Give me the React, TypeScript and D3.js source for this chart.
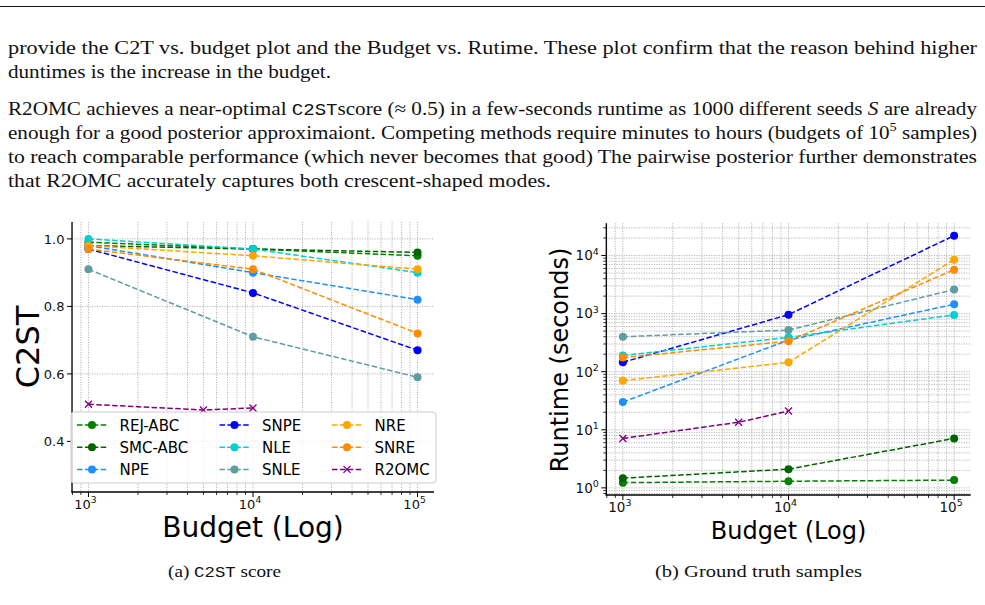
import React, { useEffect, useRef } from 'react';
import * as d3 from 'd3';

// methods in plotting / legend order
const methods = ['REJ-ABC', 'SMC-ABC', 'NPE', 'SNPE', 'NLE', 'SNLE', 'NRE', 'SNRE', 'R2OMC'];
const colors = ['green', 'darkgreen', 'dodgerblue', 'blue', 'darkturquoise', 'cadetblue', 'orange', 'darkorange', 'purple'];
const markers = ['o', 'o', 'o', 'o', 'o', 'o', 'o', 'o', 'x'];

const budgets = [1000, 10000, 100000];
const r2omcBudgets = [1000, 5000, 10000];

// C2ST score per method, one value per budget
const c2stScores = [
  [0.99, 0.97, 0.95],
  [0.98, 0.97, 0.96],
  [0.98, 0.9, 0.82],
  [0.97, 0.84, 0.67],
  [1.0, 0.97, 0.9],
  [0.91, 0.71, 0.59],
  [0.98, 0.95, 0.91],
  [0.97, 0.91, 0.72],
  [0.51, 0.493, 0.499],
];

// runtime in seconds per method, one value per budget
const runtimes = [
  [1.23, 1.3, 1.36],
  [1.47, 2.1, 7.1],
  [30, 350, 1450],
  [145, 960, 22000],
  [190, 390, 950],
  [400, 520, 2600],
  [70, 145, 8500],
  [175, 335, 5700],
  [7.1, 13.5, 21],
];

const c2stTicks = [0.4, 0.6, 0.8, 1.0];
const c2stLimits = [0.25, 1.05];

const logMajor = (lo: number, hi: number) =>
  d3.range(Math.ceil(Math.log10(lo) - 1e-9), Math.floor(Math.log10(hi) + 1e-9) + 1).map((k) => 10 ** k);

const logMinor = (lo: number, hi: number) => {
  const out: number[] = [];
  for (let k = Math.floor(Math.log10(lo)); k <= Math.ceil(Math.log10(hi)); k++) {
    for (let m = 2; m <= 9; m++) {
      const v = m * 10 ** k;
      if (v >= lo && v <= hi) out.push(v);
    }
  }
  return out;
};

// matplotlib-like 5% margin in log space
const logPad = (vals: number[]) => {
  const lo = Math.log10(d3.min(vals)!);
  const hi = Math.log10(d3.max(vals)!);
  const pad = (hi - lo) * 0.05;
  return [10 ** (lo - pad), 10 ** (hi + pad)];
};

const FONT = 'DejaVu Sans, sans-serif';
const SERIF = 'Liberation Serif, serif';
const MONO = 'Liberation Mono, monospace';

type Seg = { t: string; mono?: boolean; italic?: boolean; sup?: boolean };

const bodyLines: { y: number; width: number; segs: Seg[] }[] = [
  { y: 54, width: 969, segs: [{ t: 'provide the C2T vs. budget plot and the Budget vs. Rutime. These plot confirm that the reason behind higher' }] },
  { y: 78, width: 323, segs: [{ t: 'duntimes is the increase in the budget.' }] },
  {
    y: 115,
    width: 969,
    segs: [
      { t: 'R2OMC achieves a near-optimal ' },
      { t: 'C2ST', mono: true },
      { t: 'score (≈ 0.5) in a few-seconds runtime as 1000 different seeds ' },
      { t: 'S', italic: true },
      { t: ' are already' },
    ],
  },
  {
    y: 139,
    width: 969,
    segs: [
      { t: 'enough for a good posterior approximaiont. Competing methods require minutes to hours (budgets of 10' },
      { t: '5', sup: true },
      { t: ' samples)' },
    ],
  },
  { y: 163, width: 969, segs: [{ t: 'to reach comparable performance (which never becomes that good) The pairwise posterior further demonstrates' }] },
  { y: 187, width: 543, segs: [{ t: 'that R2OMC accurately captures both crescent-shaped modes.' }] },
];

const captions: { x: number; width: number; segs: Seg[] }[] = [
  { x: 168, width: 113, segs: [{ t: '(a) ' }, { t: 'C2ST', mono: true }, { t: ' score' }] },
  { x: 655, width: 207, segs: [{ t: '(b) Ground truth samples' }] },
];

const writeSegs = (text: any, segs: Seg[], size: number) => {
  let raised = false;
  segs.forEach((s) => {
    const ts = text.append('tspan').text(s.t);
    if (s.mono) ts.attr('font-family', MONO).attr('font-size', size * 0.9);
    if (s.italic) ts.attr('font-style', 'italic');
    if (s.sup) {
      ts.attr('font-size', size * 0.68).attr('dy', -size * 0.4);
      raised = true;
    } else if (raised) {
      ts.attr('dy', size * 0.4);
      raised = false;
    }
  });
};

const drawPage = (svg: any) => {
  svg.append('line').attr('x1', 0).attr('x2', 985).attr('y1', 6.5).attr('y2', 6.5).attr('stroke', '#111').attr('stroke-width', 1.2);

  bodyLines.forEach((ln) => {
    const t = svg
      .append('text')
      .attr('x', 8)
      .attr('y', ln.y)
      .attr('font-family', SERIF)
      .attr('font-size', 19)
      .attr('fill', '#111')
      .attr('textLength', ln.width)
      .attr('lengthAdjust', 'spacingAndGlyphs')
      .style('white-space', 'pre');
    writeSegs(t, ln.segs, 19);
  });

  captions.forEach((c) => {
    const t = svg
      .append('text')
      .attr('x', c.x)
      .attr('y', 577)
      .attr('font-family', SERIF)
      .attr('font-size', 17)
      .attr('fill', '#111')
      .attr('textLength', c.width)
      .attr('lengthAdjust', 'spacingAndGlyphs')
      .style('white-space', 'pre');
    writeSegs(t, c.segs, 17);
  });
};

const powLabel = (sel: any, v: number, size: number) => {
  sel.append('tspan').text('10');
  sel
    .append('tspan')
    .attr('font-size', size * 0.7)
    .attr('dy', -size * 0.42)
    .text(String(Math.round(Math.log10(v))));
};

type Panel = {
  x: d3.ScaleLogarithmic<number, number>;
  y: any;
  yLog: boolean;
  yTicks: number[];
  xs: number[][];
  values: number[][];
  yLabel: string;
  yLabelSize: number;
  yLabelX: number;
  yLabelY: number;
  xLabelSize: number;
  xLabelY: number;
  tickSize: number;
  legend: boolean;
};

const drawPanel = (svg: any, p: Panel) => {
  const g = svg.append('g');
  const [x0, x1] = p.x.range();
  const [y0, y1] = p.y.range(); // bottom, top
  const [dx0, dx1] = p.x.domain();
  const xMajor = logMajor(dx0, dx1);
  const xMinor = logMinor(dx0, dx1);
  const yMinor = p.yLog ? logMinor(p.y.domain()[0], p.y.domain()[1]) : [];

  const grid = g.append('g').attr('stroke', '#a8a8a8').attr('stroke-width', 0.9).attr('stroke-dasharray', '1.1,1.4');
  grid
    .selectAll('.gx')
    .data([...xMajor, ...xMinor])
    .join('line')
    .attr('x1', (d: number) => p.x(d))
    .attr('x2', (d: number) => p.x(d))
    .attr('y1', y1)
    .attr('y2', y0);
  grid
    .selectAll('.gy')
    .data([...p.yTicks, ...yMinor])
    .join('line')
    .attr('y1', (d: number) => p.y(d))
    .attr('y2', (d: number) => p.y(d))
    .attr('x1', x0)
    .attr('x2', x1);

  // series
  p.values.forEach((vals, i) => {
    const pts = vals.map((v, j) => [p.x(p.xs[i][j]), p.y(v)] as [number, number]);
    g.append('path')
      .attr('d', d3.line()(pts))
      .attr('fill', 'none')
      .attr('stroke', colors[i])
      .attr('stroke-width', 1.5)
      .attr('stroke-dasharray', '5.5,2.4');
    drawMarkers(g, pts, i);
  });

  // spines + ticks
  const ax = g.append('g').attr('stroke', '#000');
  ax.append('line').attr('x1', x0).attr('x2', x0).attr('y1', y1).attr('y2', y0 + 0.6).attr('stroke-width', 1.3);
  ax.append('line').attr('x1', x0 - 0.6).attr('x2', x1).attr('y1', y0).attr('y2', y0).attr('stroke-width', 1.3);
  xMajor.forEach((v) => ax.append('line').attr('x1', p.x(v)).attr('x2', p.x(v)).attr('y1', y0).attr('y2', y0 + 5).attr('stroke-width', 1));
  xMinor.forEach((v) => ax.append('line').attr('x1', p.x(v)).attr('x2', p.x(v)).attr('y1', y0).attr('y2', y0 + 3).attr('stroke-width', 0.8));
  p.yTicks.forEach((v) => ax.append('line').attr('y1', p.y(v)).attr('y2', p.y(v)).attr('x1', x0).attr('x2', x0 - 5).attr('stroke-width', 1));
  yMinor.forEach((v) => ax.append('line').attr('y1', p.y(v)).attr('y2', p.y(v)).attr('x1', x0).attr('x2', x0 - 3).attr('stroke-width', 0.8));

  // tick labels
  xMajor.forEach((v) => {
    const t = g
      .append('text')
      .attr('x', p.x(v) - 3)
      .attr('y', y0 + 16.5)
      .attr('text-anchor', 'middle')
      .attr('font-family', FONT)
      .attr('font-size', p.tickSize)
      .attr('fill', '#111');
    powLabel(t, v, p.tickSize);
  });
  p.yTicks.forEach((v) => {
    const t = g
      .append('text')
      .attr('x', x0 - 7.5)
      .attr('y', p.y(v) + p.tickSize * 0.36)
      .attr('text-anchor', 'end')
      .attr('font-family', FONT)
      .attr('font-size', p.tickSize)
      .attr('fill', '#111');
    if (p.yLog) powLabel(t, v, p.tickSize);
    else t.text(d3.format('.1f')(v));
  });

  // axis titles
  g.append('text')
    .attr('transform', `translate(${p.yLabelX},${p.yLabelY}) rotate(-90)`)
    .attr('text-anchor', 'middle')
    .attr('font-family', FONT)
    .attr('font-size', p.yLabelSize)
    .attr('fill', '#000')
    .text(p.yLabel);
  g.append('text')
    .attr('x', (x0 + x1) / 2)
    .attr('y', p.xLabelY)
    .attr('text-anchor', 'middle')
    .attr('font-family', FONT)
    .attr('font-size', p.xLabelSize)
    .attr('fill', '#000')
    .text('Budget (Log)');

  if (p.legend) drawLegend(g, x0, y0);
};

const drawMarkers = (g: any, pts: [number, number][], i: number) => {
  if (markers[i] === 'x') {
    pts.forEach(([cx, cy]) => {
      g.append('path')
        .attr('d', `M${cx - 3.5},${cy - 3.5}L${cx + 3.5},${cy + 3.5}M${cx - 3.5},${cy + 3.5}L${cx + 3.5},${cy - 3.5}`)
        .attr('stroke', colors[i])
        .attr('stroke-width', 1.3);
    });
  } else {
    pts.forEach(([cx, cy]) => g.append('circle').attr('cx', cx).attr('cy', cy).attr('r', 4).attr('fill', colors[i]));
  }
};

const drawLegend = (g: any, x0: number, y0: number) => {
  const bx = x0 - 1;
  const by = y0 - 80;
  g.append('rect')
    .attr('x', bx)
    .attr('y', by)
    .attr('width', 365)
    .attr('height', 71)
    .attr('rx', 3)
    .attr('fill', '#fff')
    .attr('fill-opacity', 0.8)
    .attr('stroke', '#cccccc')
    .attr('stroke-width', 1);
  const colW = 142.5;
  methods.forEach((m, i) => {
    const col = Math.floor(i / 3);
    const row = i % 3;
    const hx = bx + 6 + col * (col === 2 ? 127.5 : colW);
    const hy = by + 13 + row * 22.2;
    g.append('line')
      .attr('x1', hx)
      .attr('x2', hx + 30)
      .attr('y1', hy)
      .attr('y2', hy)
      .attr('stroke', colors[i])
      .attr('stroke-width', 1.5)
      .attr('stroke-dasharray', '5.5,2.4');
    drawMarkers(g, [[hx + 15, hy]], i);
    g.append('text')
      .attr('x', hx + 42.5)
      .attr('y', hy + 5.5)
      .attr('font-family', FONT)
      .attr('font-size', 15)
      .attr('fill', '#000')
      .text(m);
  });
};

const App = () => {
  const svgRef = useRef<SVGSVGElement>(null);

  useEffect(() => {
    if (!svgRef.current) return;
    const svg = d3.select(svgRef.current);
    svg.selectAll('*').remove();

    drawPage(svg);

    const xs = methods.map((m) => (m === 'R2OMC' ? r2omcBudgets : budgets));
    const xDomain = logPad(budgets);

    drawPanel(svg, {
      x: d3.scaleLog().domain(xDomain).range([72, 434]),
      y: d3.scaleLinear().domain(c2stLimits).range([492, 222]),
      yLog: false,
      yTicks: c2stTicks,
      xs,
      values: c2stScores,
      yLabel: 'C2ST',
      yLabelSize: 32,
      yLabelX: 39,
      yLabelY: 347,
      xLabelSize: 28,
      xLabelY: 537,
      tickSize: 13,
      legend: true,
    });

    const yDomain = logPad(runtimes.flat());
    drawPanel(svg, {
      x: d3.scaleLog().domain(xDomain).range([606.3, 970.7]),
      y: d3.scaleLog().domain(yDomain).range([495, 223.3]),
      yLog: true,
      yTicks: logMajor(yDomain[0], yDomain[1]),
      xs,
      values: runtimes,
      yLabel: 'Runtime (seconds)',
      yLabelSize: 24,
      yLabelX: 568,
      yLabelY: 360,
      xLabelSize: 24,
      xLabelY: 539,
      tickSize: 13.5,
      legend: false,
    });
  }, []);

  return (
    <svg
      ref={svgRef}
      width={985}
      height={605}
      style={{ position: 'fixed', left: 0, top: 0, background: '#fff' }}
    />
  );
};

export default App;
